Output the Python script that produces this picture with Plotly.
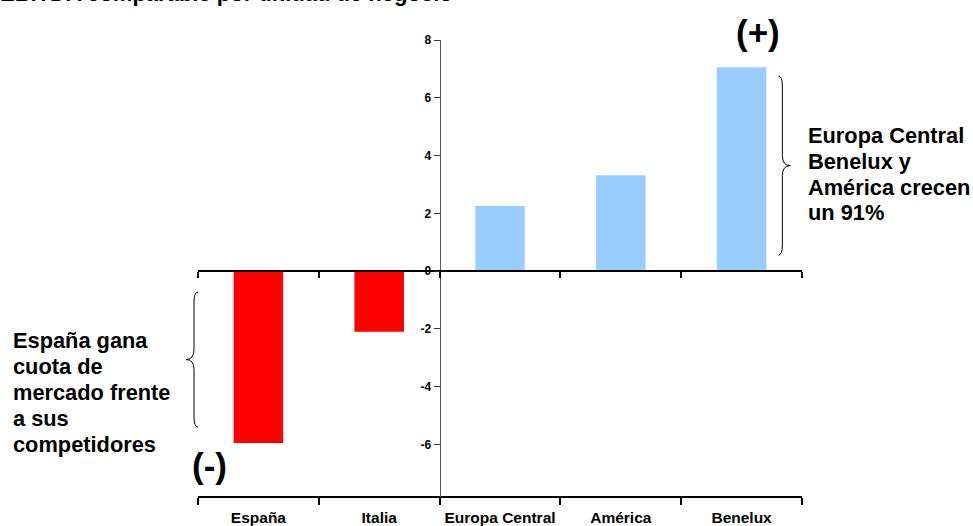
import plotly.graph_objects as go

categories = ["España", "Italia", "Europa Central", "América", "Benelux"]
values = [-5.95, -2.1, 2.25, 3.32, 7.06]
colors = ["#FF0000", "#FF0000", "#99CCFF", "#99CCFF", "#99CCFF"]
ytick_vals = [-6, -4, -2, 0, 2, 4, 6, 8]
ytick_text = ["-6", "-4", "-2", "0", "2", "4", "6", "8"]
title_text = "EBITDA comparable por unidad de negocio"
note_right = ["Europa Central", "Benelux y", "América crecen", "un 91%"]
note_left = ["España gana", "cuota de", "mercado frente", "a sus", "competidores"]

FONT = "Arial, Liberation Sans, sans-serif"
W, H = 973, 526
ML, MR, MT, MB = 198, 171, 40, 29
YMIN, YMAX = -7.82, 8.0
n = len(categories)
xr = [-0.5, n - 0.5]
pw = W - ML - MR
ph = H - MT - MB
px_x = (xr[1] - xr[0]) / pw      # category units per pixel
px_y = (YMAX - YMIN) / ph        # value units per pixel


def to_px(xv):
    return (xv - xr[0]) / (xr[1] - xr[0])


def to_py(yv):
    return (yv - YMIN) / (YMAX - YMIN)


fig = go.Figure()
fig.add_trace(go.Bar(
    x=categories, y=values, marker=dict(color=colors, line=dict(width=0)),
    width=0.41, showlegend=False, hoverinfo="x+y",
))

zero_pos = to_py(0)
yaxis_pos = to_px(1.5)

fig.update_layout(
    width=W, height=H,
    margin=dict(l=ML, r=MR, t=MT, b=MB, pad=0, autoexpand=False),
    paper_bgcolor="white", plot_bgcolor="white",
    font=dict(family=FONT, color="black"),
    xaxis=dict(
        type="category", range=xr, tickson="boundaries", ticks="outside",
        ticklen=7, tickwidth=1.5, tickcolor="black",
        showline=True, linecolor="black", linewidth=2,
        showgrid=False, zeroline=False, automargin=False,
        tickfont=dict(family=FONT, size=15.5, color="black", weight="bold"),
        ticklabelstandoff=6,
        anchor="free", position=0,
    ),
    xaxis2=dict(
        overlaying="x", range=xr, anchor="free", position=zero_pos,
        side="bottom", automargin=False,
        tickvals=[i - 0.5 for i in range(n + 1)], showticklabels=False,
        ticks="outside", ticklen=6, tickwidth=1.5, tickcolor="black",
        showline=True, linecolor="black", linewidth=2,
        showgrid=False, zeroline=False,
    ),
    yaxis=dict(
        range=[YMIN, YMAX], anchor="free", position=yaxis_pos,
        tickvals=ytick_vals, ticktext=ytick_text, ticks="outside",
        ticklen=6, tickwidth=1, tickcolor="#333333", automargin=False,
        showline=True, linecolor="#555555", linewidth=1,
        showgrid=False, zeroline=False,
        tickfont=dict(family=FONT, size=12, color="black", weight="bold"),
    ),
)
# invisible trace so the zero-line axis renders
fig.add_trace(go.Scatter(x=[xr[0]], y=[0], xaxis="x2", mode="markers",
                         marker=dict(opacity=0), showlegend=False, hoverinfo="skip"))


def brace(x0, ytop, ybot, direction):
    """Curly brace path in paper coords; direction +1 -> tip right, -1 -> tip left."""
    d = direction
    ux = 1.0 / pw
    uy = 1.0 / ph
    w = 4 * ux * d
    t = 8 * ux * d
    r = 10 * uy
    ym = (ytop + ybot) / 2
    xa = x0 + w
    return (f"M {x0},{ytop} Q {xa},{ytop} {xa},{ytop - r} "
            f"L {xa},{ym + r} Q {xa},{ym} {x0 + w + t},{ym} "
            f"Q {xa},{ym} {xa},{ym - r} "
            f"L {xa},{ybot + r} Q {xa},{ybot} {x0},{ybot}")


# right brace next to Benelux
bx = to_px(4 + 0.205 + 12 * px_x)
fig.add_shape(type="path", xref="paper", yref="paper",
              path=brace(bx, to_py(values[4] - 9 * px_y), to_py(0 + 16 * px_y), 1),
              line=dict(color="black", width=1))
# left brace next to España
lx = to_px(-0.5)
fig.add_shape(type="path", xref="paper", yref="paper",
              path=brace(lx, to_py(0 - 21 * px_y), to_py(values[0] + 16 * px_y), -1),
              line=dict(color="black", width=1))


def text_block(lines, x_pix, y0_pix, step):
    for i, s in enumerate(lines):
        fig.add_annotation(text=s, xref="paper", yref="paper",
                           x=(x_pix - ML) / pw, y=1 - (y0_pix + i * step - MT) / ph,
                           xanchor="left", yanchor="middle", align="left",
                           showarrow=False,
                           font=dict(family=FONT, size=21.8, color="black", weight="bold"))


text_block(note_right, 806, 136, 25.5)
text_block(note_left, 11, 340, 26)

fig.add_annotation(text="(+)", xref="paper", yref="paper",
                   x=(758 - ML) / pw, y=1 - (32 - MT) / ph,
                   xanchor="center", yanchor="middle", showarrow=False,
                   font=dict(family=FONT, size=35, color="black", weight="bold"))
fig.add_annotation(text="(-)", xref="paper", yref="paper",
                   x=(209 - ML) / pw, y=1 - (465 - MT) / ph,
                   xanchor="center", yanchor="middle", showarrow=False,
                   font=dict(family=FONT, size=35, color="black", weight="bold"))
fig.add_annotation(text=title_text, xref="paper", yref="paper",
                   x=(-2 - ML) / pw, y=1 - (-6.5 - MT) / ph,
                   xanchor="left", yanchor="middle", showarrow=False,
                   font=dict(family=FONT, size=22, color="black", weight="bold"))

fig.write_html("out.html")
